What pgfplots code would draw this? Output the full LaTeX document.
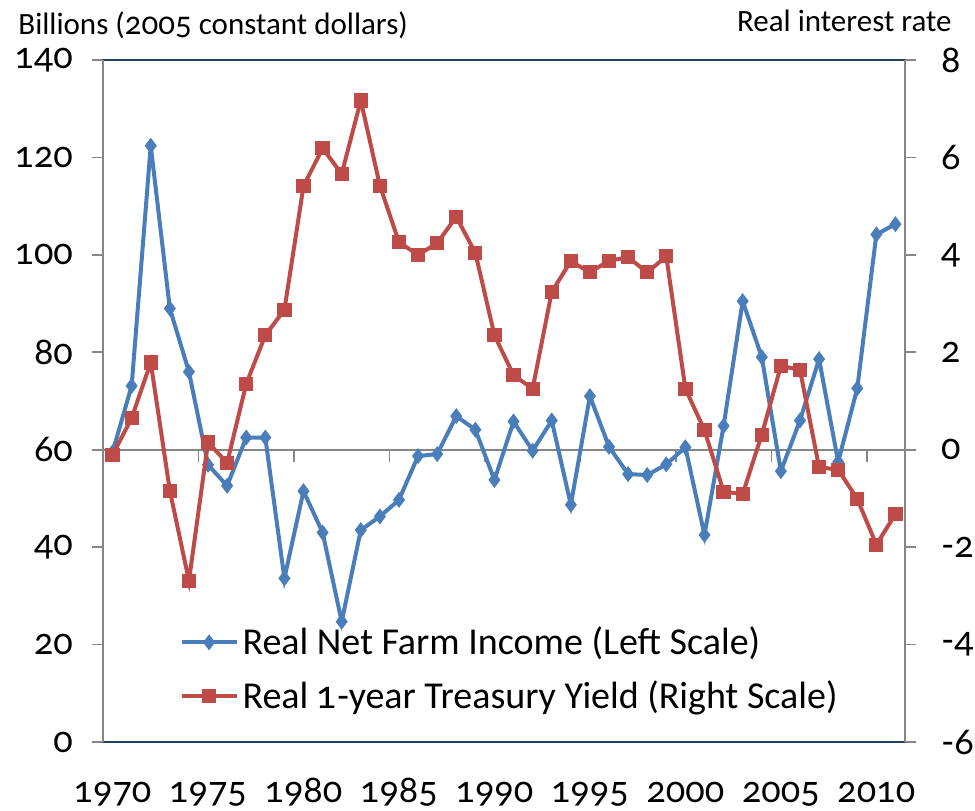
\documentclass[border=0pt]{standalone}
\usepackage{pgfplots}
\pgfplotsset{compat=1.18}
\usepackage{fontspec}
\setmainfont{Carlito}
\newfontfamily\onum{Lato}[Numbers=OldStyle]
\definecolor{xlblue}{HTML}{4A7EBB}
\definecolor{xlred}{HTML}{BE4B48}
\definecolor{axgray}{HTML}{868686}
\definecolor{navy}{HTML}{243F60}
\begin{document}
\begin{tikzpicture}
\useasboundingbox (-51.5pt,-34pt) rectangle (436pt,371pt);
\begin{axis}[
  scale only axis, width=401pt, height=341pt,
  xmin=1969.5, xmax=2011.5, ymin=0, ymax=140,
  axis x line=box, axis y line*=left,
  every outer x axis line/.append style={-},
  every outer y axis line/.append style={-},
  x axis line style={draw=navy, line width=0.8pt},
  y axis line style={draw=axgray, line width=1pt},
  xtick={1970,1975,...,2010},
  xticklabels={1970,1975,1980,1985,1990,1995,2000,2005,2010},
  x tick style={draw=none},
  xticklabel style={anchor=base, yshift=-30pt},
  ytick={0,20,...,140},
  yticklabels={0,20,40,60,80,100,120,140},
  ytick pos=left, ytick align=outside,
  y tick style={draw=axgray, line width=0.8pt},
  major tick length=5.5pt,
  tick label style={font=\onum\fontsize{18}{20}\selectfont},
  yticklabel style={anchor=east, xshift=-6pt},
  clip=false,
]
\draw[axgray, line width=0.8pt] (axis cs:1969.5,60) -- (axis cs:2011.5,60);
\pgfplotsinvokeforeach{1974.5,1979.5,1984.5,1989.5,1994.5,1999.5,2004.5,2009.5}{
  \draw[axgray, line width=0.8pt] (axis cs:#1,60) -- ++(0pt,-6pt);}
\addplot[xlblue, line width=2pt, mark=diamond*, mark size=3.6pt,
  mark options={solid, fill=xlblue, draw=xlblue, line width=0.5pt}] coordinates {
(1970,59.5) (1971,73.1) (1972,122.4) (1973,89.0) (1974,76.0) (1975,56.9)
(1976,52.6) (1977,62.5) (1978,62.5) (1979,33.6) (1980,51.5) (1981,43.0)
(1982,24.7) (1983,43.5) (1984,46.3) (1985,49.7) (1986,58.7) (1987,59.1)
(1988,66.9) (1989,64.1) (1990,53.8) (1991,65.8) (1992,59.8) (1993,66.0)
(1994,48.7) (1995,71.0) (1996,60.6) (1997,55.0) (1998,54.8) (1999,57.0)
(2000,60.5) (2001,42.5) (2002,64.9) (2003,90.5) (2004,79.0) (2005,55.6)
(2006,66.0) (2007,78.6) (2008,57.5) (2009,72.6) (2010,104.2) (2011,106.3)
};
\end{axis}
\begin{axis}[
  scale only axis, width=401pt, height=341pt,
  xmin=1969.5, xmax=2011.5, ymin=-6, ymax=8,
  axis x line=none, axis y line*=right,
  every outer y axis line/.append style={-},
  y axis line style={draw=axgray, line width=1pt},
  ytick={-6,-4,...,8},
  yticklabels={-6,-4,-2,0,2,4,6,8},
  ytick pos=right, ytick align=outside,
  y tick style={draw=axgray, line width=0.8pt},
  major tick length=5.5pt,
  tick label style={font=\onum\fontsize{18}{20}\selectfont},
  yticklabel style={anchor=west, xshift=9pt},
  clip=false,
  legend style={at={(axis description cs:0.09,0.181)}, anchor=north west,
    draw=none, fill=none, font=\fontsize{19}{22}\selectfont,
    row sep=7.5pt, inner sep=2pt},
  legend cell align=left,
  legend image code/.code={
    \draw[mark repeat=2,mark phase=2] plot coordinates {(0pt,0pt) (13.75pt,0pt) (27.5pt,0pt)};},
]
\addlegendimage{xlblue, line width=2pt, mark=diamond*, mark size=3.6pt,
  mark options={solid, fill=xlblue, draw=xlblue, line width=0.5pt}}
\addlegendentry{Real Net Farm Income (Left Scale)}
\addplot[xlred, line width=2pt, mark=square*, mark size=3.3pt,
  mark options={solid, fill=xlred, draw=xlred, line width=0.5pt}] coordinates {
(1970,-0.11) (1971,0.65) (1972,1.79) (1973,-0.84) (1974,-2.69) (1975,0.15)
(1976,-0.27) (1977,1.35) (1978,2.35) (1979,2.87) (1980,5.41) (1981,6.19)
(1982,5.66) (1983,7.17) (1984,5.42) (1985,4.26) (1986,4.00) (1987,4.24)
(1988,4.78) (1989,4.04) (1990,2.35) (1991,1.53) (1992,1.25) (1993,3.24)
(1994,3.87) (1995,3.64) (1996,3.88) (1997,3.95) (1998,3.64) (1999,3.97)
(2000,1.25) (2001,0.40) (2002,-0.86) (2003,-0.91) (2004,0.31) (2005,1.72)
(2006,1.64) (2007,-0.36) (2008,-0.41) (2009,-1.01) (2010,-1.95) (2011,-1.32)
};
\addlegendentry{Real {\onum 1}-year Treasury Yield (Right Scale)}
\end{axis}
\node[anchor=base west, font=\fontsize{15.5}{18}\selectfont, inner sep=0pt] at (-42.5pt,353.5pt) {Billions ({\onum 2005} constant dollars)};
\node[anchor=base east, font=\fontsize{15.5}{18}\selectfont, inner sep=0pt] at (424.5pt,355pt) {Real interest rate};
\end{tikzpicture}
\end{document}
